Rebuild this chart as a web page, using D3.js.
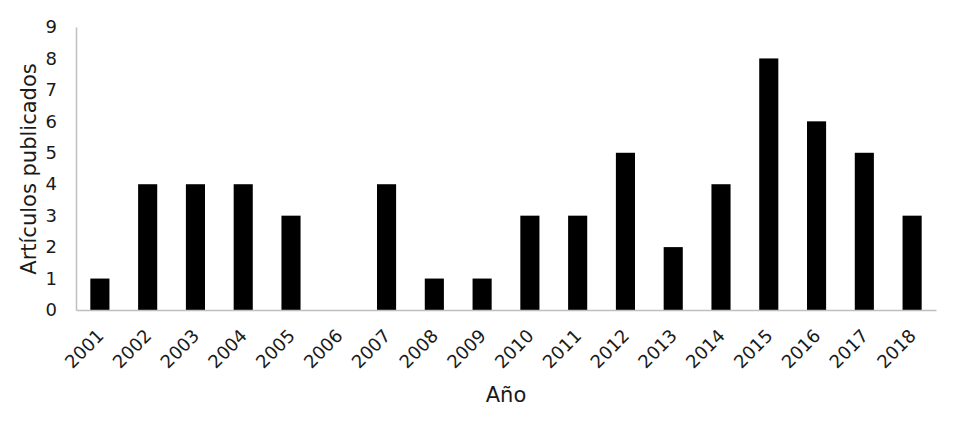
<!DOCTYPE html>
<html><head><meta charset="utf-8">
<script src="https://cdn.jsdelivr.net/npm/d3@7"></script>
<style>body{margin:0;background:#fff}</style>
</head><body>
<svg id="c" width="972" height="421"></svg>
<script>
const years = ["2001","2002","2003","2004","2005","2006","2007","2008","2009","2010","2011","2012","2013","2014","2015","2016","2017","2018"];
const articles = [1,4,4,4,3,0,4,1,1,3,3,5,2,4,8,6,5,3];
const yTicks = [0,1,2,3,4,5,6,7,8,9];
const yTitle = "Artículos publicados";
const xTitle = "Año";

const svg = d3.select("#c");
const m = {l:76, r:36, t:27, b:111};
const W = 972, H = 421;
const x = d3.scaleBand().domain(years).range([m.l, W-m.r]).paddingInner(0.6).paddingOuter(0.3);
const y = d3.scaleLinear().domain([0,9]).range([H-m.b, m.t]);
const font = "DejaVu Sans, Verdana, sans-serif";

svg.selectAll("rect.bar").data(years).enter().append("rect")
  .attr("class","bar")
  .attr("x", d=>x(d)).attr("width", x.bandwidth())
  .attr("y", (d,i)=>y(articles[i])).attr("height",(d,i)=>y(0)-y(articles[i]))
  .attr("fill","#000");

const ya = svg.append("g").attr("transform",`translate(${m.l},0)`)
  .call(d3.axisLeft(y).tickValues(yTicks).tickSize(0).tickPadding(19).tickFormat(d3.format("d")));
ya.select(".domain").attr("stroke","#bfbfbf").attr("stroke-width",1.5);
ya.selectAll("text").attr("font-family",font).attr("font-size",18).attr("fill","#1a1a1a");

const xa = svg.append("g").attr("transform",`translate(0,${y(0)})`)
  .call(d3.axisBottom(x).tickSize(0).tickPadding(0));
xa.select(".domain").attr("stroke","#bfbfbf").attr("stroke-width",1.5);
xa.selectAll("text").attr("font-family",font).attr("font-size",18).attr("fill","#1a1a1a")
  .attr("text-anchor","end").attr("dy",null).attr("y",0)
  .attr("transform","translate(5,27) rotate(-45)");

svg.append("text").attr("x",506).attr("y",402).attr("text-anchor","middle")
  .attr("font-family",font).attr("font-size",21).attr("fill","#1a1a1a").text(xTitle);
svg.append("text").attr("transform","translate(36,169) rotate(-90)").attr("text-anchor","middle")
  .attr("font-family",font).attr("font-size",21).attr("fill","#1a1a1a").text(yTitle);
</script>
</body></html>
